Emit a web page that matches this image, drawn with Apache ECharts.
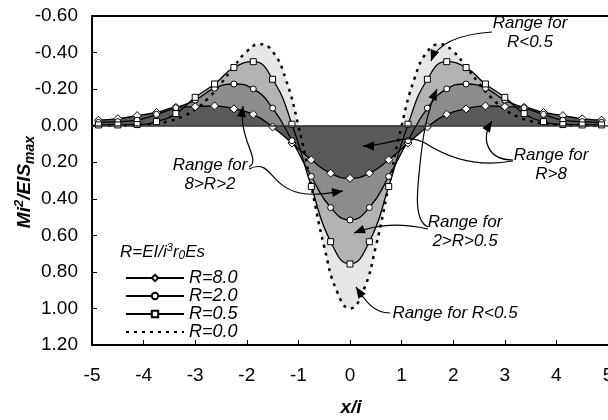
<!DOCTYPE html>
<html>
<head>
<meta charset="utf-8">
<script src="https://cdn.jsdelivr.net/npm/echarts@6/dist/echarts.min.js"></script>
<style>
  html, body { margin: 0; padding: 0; background: #fff; }
  #chart { width: 608px; height: 420px; }
</style>
</head>
<body>
<div id="chart"></div>
<script>
// x/i of the marked points
var xs = [-4.875, -4.5, -4.125, -3.75, -3.375, -3.0, -2.625, -2.25, -1.875, -1.5, -1.125, -0.75, -0.375,
          0, 0.375, 0.75, 1.125, 1.5, 1.875, 2.25, 2.625, 3.0, 3.375, 3.75, 4.125, 4.5, 4.875];
// Mi^2/EISmax for each R
var r80 = [-0.030, -0.038, -0.055, -0.072, -0.100, -0.104, -0.108, -0.092, -0.062, 0.007, 0.095, 0.187, 0.260,
           0.288, 0.260, 0.187, 0.095, 0.007, -0.062, -0.092, -0.108, -0.104, -0.100, -0.072, -0.055, -0.038, -0.030];
var r20 = [-0.018, -0.022, -0.030, -0.062, -0.098, -0.140, -0.205, -0.228, -0.201, -0.096, 0.082, 0.278, 0.448,
           0.516, 0.448, 0.278, 0.082, -0.096, -0.201, -0.228, -0.205, -0.140, -0.098, -0.062, -0.030, -0.022, -0.018];
var r05 = [-0.004, -0.004, -0.006, -0.022, -0.066, -0.155, -0.228, -0.318, -0.350, -0.254, -0.008, 0.333, 0.635,
           0.757, 0.635, 0.333, -0.008, -0.254, -0.350, -0.318, -0.228, -0.155, -0.066, -0.022, -0.006, -0.004, -0.004];
// R=0.0 (dotted), read every 0.25
var xs0 = [-5, -4.75, -4.5, -4.25, -4, -3.75, -3.5, -3.25, -3, -2.75, -2.5, -2.25, -2, -1.75, -1.5, -1.25, -1,
           -0.75, -0.5, -0.25, 0, 0.25, 0.5, 0.75, 1, 1.25, 1.5, 1.75, 2, 2.25, 2.5, 2.75, 3, 3.25, 3.5, 3.75,
           4, 4.25, 4.5, 4.75, 5];
var r00 = [0.000, 0.000, -0.001, -0.002, -0.005, -0.012, -0.025, -0.049, -0.089, -0.150, -0.231, -0.323, -0.406,
           -0.446, -0.406, -0.258, 0.000, 0.330, 0.662, 0.909, 1.000, 0.909, 0.662, 0.330, 0.000, -0.258, -0.406,
           -0.446, -0.406, -0.323, -0.231, -0.150, -0.089, -0.049, -0.025, -0.012, -0.005, -0.002, -0.001, 0.000, 0.000];
var names = ['R=8.0', 'R=2.0', 'R=0.5', 'R=0.0'];

var FONT = 'Liberation Sans';

function pairs(xa, ya) {
  return xa.map(function (x, i) { return [x, ya[i]]; });
}

// grey bands: each curve filled to zero, lightest underneath
function band(name, xa, ya, color) {
  return {
    name: name, type: 'line', smooth: 0.5, symbol: 'none', silent: true, z: 1,
    lineStyle: { width: 0 },
    areaStyle: { color: color, opacity: 1 },
    data: pairs(xa, ya)
  };
}

function curve(name, xa, ya, symbol, size, dotted) {
  return {
    name: name, type: 'line', smooth: 0.5, z: 3,
    symbol: symbol, symbolSize: size,
    itemStyle: { color: '#fff', borderColor: '#000', borderWidth: 1 },
    lineStyle: dotted ? { color: '#000', width: 2.5, type: [3, 5] } : { color: '#000', width: 1.3 },
    data: pairs(xa, ya)
  };
}

// segs: [x1, y1, cpx1, cpy1, cpx2, cpy2, x2, y2] cubic pieces; head at the end of the last one
function arrow(segs) {
  var out = segs.map(function (s) {
    return {
      type: 'bezierCurve', z: 10,
      shape: { x1: s[0], y1: s[1], cpx1: s[2], cpy1: s[3], cpx2: s[4], cpy2: s[5], x2: s[6], y2: s[7] },
      style: { fill: null, stroke: '#000', lineWidth: 1.2 }
    };
  });
  var last = segs[segs.length - 1];
  var tip = [last[6], last[7]];
  var a = Math.atan2(last[7] - last[5], last[6] - last[4]);
  var L = 11, W = 4.5;
  var bx = tip[0] - L * Math.cos(a), by = tip[1] - L * Math.sin(a);
  var px = -Math.sin(a) * W, py = Math.cos(a) * W;
  out.push({
    type: 'polygon', z: 10,
    shape: { points: [tip, [bx + px, by + py], [bx - px, by - py]] },
    style: { fill: '#000' }
  });
  return out;
}

function note(txt, x, y) {
  return {
    type: 'text', x: x, y: y, z: 10,
    style: { text: txt, align: 'center', verticalAlign: 'middle', lineHeight: 19,
             font: 'italic 17px "' + FONT + '"', fill: '#000' }
  };
}

var graphics = [
  note('Range for\nR<0.5', 530, 33),
  note('Range for\nR>8', 551, 165),
  note('Range for\n8>R>2', 210, 175),
  note('Range for\n2>R>0.5', 465, 232),
  note('Range for R<0.5', 455, 313),
  // axis titles and legend heading
  {
    type: 'text', x: 25, y: 182, rotation: Math.PI / 2, z: 10,
    style: {
      text: '{b|Mi}{sup|2}{b|/EIS}{sub|max}', align: 'center', verticalAlign: 'middle',
      rich: {
        b: { fontSize: 19, fontWeight: 'bold', fontStyle: 'italic', fontFamily: FONT, fill: '#000', lineHeight: 24 },
        sup: { fontSize: 13, fontWeight: 'bold', fontStyle: 'italic', fontFamily: FONT, fill: '#000', verticalAlign: 'top', lineHeight: 24 },
        sub: { fontSize: 14, fontWeight: 'bold', fontStyle: 'italic', fontFamily: FONT, fill: '#000', verticalAlign: 'bottom', lineHeight: 24 }
      }
    }
  },
  {
    type: 'text', x: 351, y: 408, z: 10,
    style: { text: 'x/i', align: 'center', verticalAlign: 'middle', font: 'italic bold 19px "' + FONT + '"', fill: '#000' }
  },
  {
    type: 'text', x: 120, y: 252, z: 10,
    style: {
      text: '{a|R=EI/i}{sup|3}{a|r}{sub|0}{a|Es}', align: 'left', verticalAlign: 'middle',
      rich: {
        a: { fontSize: 17, fontStyle: 'italic', fontFamily: FONT, fill: '#000', lineHeight: 20 },
        sup: { fontSize: 11, fontStyle: 'italic', fontFamily: FONT, fill: '#000', verticalAlign: 'top', lineHeight: 20 },
        sub: { fontSize: 12, fontStyle: 'italic', fontFamily: FONT, fill: '#000', verticalAlign: 'bottom', lineHeight: 20 }
      }
    }
  }
];

graphics = graphics
  .concat(arrow([[492, 32, 462, 34, 438, 42, 431, 61]]))
  .concat(arrow([[513, 160, 488, 160, 480, 140, 492, 121]]))
  .concat(arrow([[513, 161, 475, 168, 445, 156, 425, 143], [425, 143, 405, 132, 390, 146, 363, 146]]))
  .concat(arrow([[249, 169, 272, 158, 268, 186, 300, 193], [300, 193, 315, 196, 328, 193, 343, 191]]))
  .concat(arrow([[249, 167, 262, 160, 238, 140, 243, 106]]))
  .concat(arrow([[428, 229, 400, 223, 378, 224, 354, 233]]))
  .concat(arrow([[428, 227, 412, 220, 418, 185, 421, 155], [421, 155, 424, 125, 430, 105, 437, 89]]))
  .concat(arrow([[390, 313, 374, 313, 366, 302, 356, 287]]));

var chart = echarts.init(document.getElementById('chart'));

var zeroBand = band('b80', xs, r80, '#5a5a5a');
zeroBand.markLine = {
  silent: true, symbol: 'none', label: { show: false },
  lineStyle: { color: '#333', width: 1.5, type: 'solid' },
  data: [{ yAxis: 0 }]
};

chart.setOption({
  animation: false,
  backgroundColor: '#fff',
  grid: { left: 92, right: 0, top: 16, bottom: 75, outerBoundsMode: 'none', containLabel: false },
  xAxis: [
    {
      type: 'value', min: -5, max: 5, interval: 1,
      axisLine: { onZero: false, lineStyle: { color: '#000', width: 2 } },
      axisTick: { inside: true, length: 5, lineStyle: { color: '#000', width: 1 } },
      axisLabel: { fontSize: 19, fontFamily: FONT, color: '#000', margin: 21, showMaxLabel: true },
      splitLine: { show: false }
    },
    {
      type: 'value', min: -5, max: 5, position: 'top',
      axisLine: { show: true, onZero: false, lineStyle: { color: '#000', width: 2 } },
      axisTick: { show: false }, axisLabel: { show: false }, splitLine: { show: false }
    }
  ],
  yAxis: {
    type: 'value', inverse: true, min: -0.6, max: 1.2, interval: 0.2,
    axisLine: { show: true, onZero: false, lineStyle: { color: '#000', width: 2 } },
    axisTick: { show: true, inside: true, length: 5, lineStyle: { color: '#000', width: 1 } },
    axisLabel: {
      fontSize: 19, fontFamily: FONT, color: '#000', margin: 14,
      formatter: function (v) { return (Math.abs(v) < 1e-9 ? 0 : v).toFixed(2); }
    },
    splitLine: { show: false }
  },
  legend: {
    data: [names[0], names[1], names[2], { name: names[3], itemStyle: { opacity: 0 } }],
    orient: 'vertical', left: 120, top: 264, selectedMode: false,
    itemWidth: 58, itemHeight: 8, itemGap: 0,
    textStyle: { fontSize: 18, fontStyle: 'italic', fontFamily: FONT, color: '#000', lineHeight: 17 }
  },
  graphic: graphics,
  series: [
    band('b00', xs0, r00, '#e6e6e6'),
    band('b05', xs, r05, '#b3b3b3'),
    band('b20', xs, r20, '#8c8c8c'),
    zeroBand,
    curve(names[0], xs, r80, 'diamond', 8, false),
    curve(names[1], xs, r20, 'circle', 6, false),
    curve(names[2], xs, r05, 'rect', 6, false),
    curve(names[3], xs0, r00, 'none', 0, true)
  ]
});
</script>
</body>
</html>
